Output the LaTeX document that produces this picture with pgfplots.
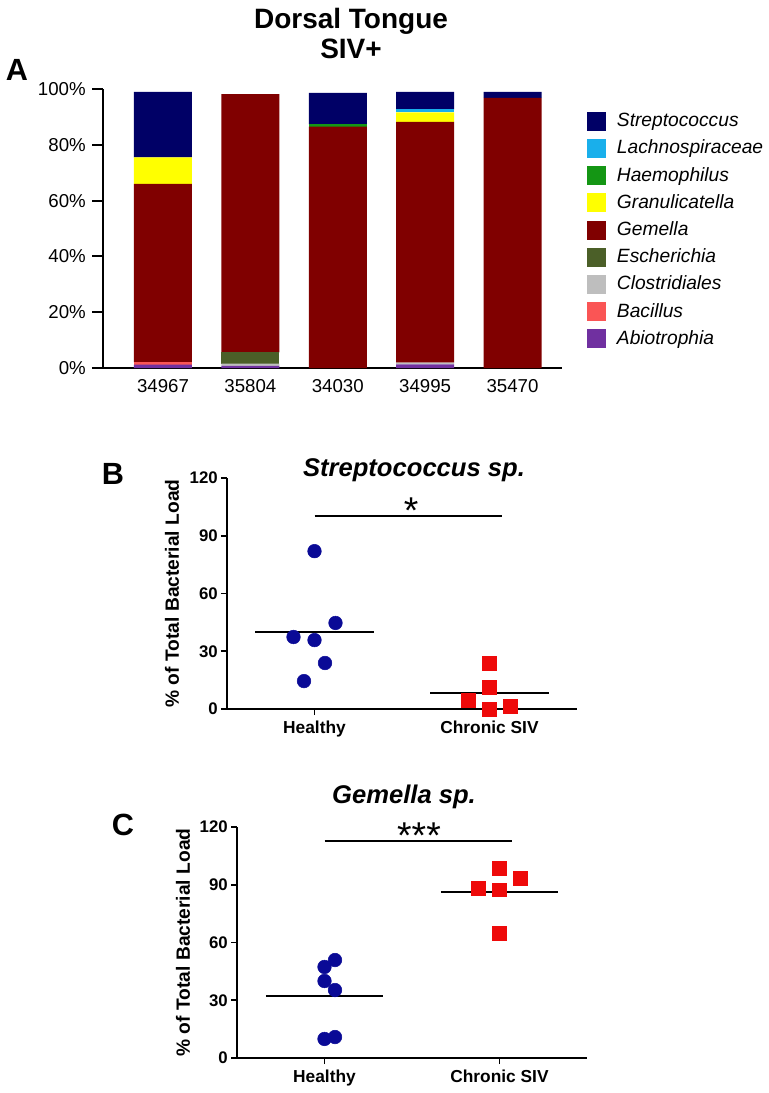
\documentclass[border=0pt]{standalone}
\usepackage{fontspec}
\setmainfont{Liberation Sans}
\usepackage{pgfplots}
\pgfplotsset{compat=1.18}
\definecolor{cStrep}{RGB}{0,0,102}
\definecolor{cLach}{RGB}{25,175,235}
\definecolor{cHaem}{RGB}{20,150,20}
\definecolor{cGran}{RGB}{255,255,0}
\definecolor{cGem}{RGB}{128,0,0}
\definecolor{cEsch}{RGB}{75,95,40}
\definecolor{cClos}{RGB}{190,190,190}
\definecolor{cBac}{RGB}{250,85,85}
\definecolor{cAbio}{RGB}{112,48,160}
\definecolor{cBlue}{RGB}{10,10,150}
\definecolor{cRed}{RGB}{238,10,10}
\begin{document}
\begin{tikzpicture}
\useasboundingbox (0,0) rectangle (576pt,-819.75pt);
% headings
\node[anchor=base, font=\bfseries\fontsize{21}{25}\selectfont] at (263.25pt,-21pt) {Dorsal Tongue};
\node[anchor=base, font=\bfseries\fontsize{21}{25}\selectfont] at (263.25pt,-43.5pt) {SIV+};
\node[anchor=base, font=\bfseries\fontsize{23}{27}\selectfont] at (12.75pt,-60pt) {A};
\node[anchor=base, font=\bfseries\fontsize{23}{27}\selectfont] at (84.75pt,-363pt) {B};
\node[anchor=base, font=\bfseries\fontsize{23}{27}\selectfont] at (92.25pt,-626.25pt) {C};
\node[anchor=base, font=\bfseries\itshape\fontsize{19.2}{22}\selectfont] at (310.5pt,-357pt) {Streptococcus sp.};
\node[anchor=base, font=\bfseries\itshape\fontsize{19.2}{22}\selectfont] at (303pt,-602.25pt) {Gemella sp.};

% ---------------- Panel A ----------------
\begin{axis}[
  at={(77.25pt,-276pt)}, anchor=south west, scale only axis,
  width=344.25pt, height=209.25pt,
  xmin=-0.6865, xmax=4.566, ymin=0, ymax=100,
  axis lines=left, axis line style={-, line width=1.5pt},
  ybar stacked, bar width=43.5pt,
  xtick={0,1,2,3,4}, xticklabels={34967,35804,34030,34995,35470},
  x tick style={draw=none},
  ytick={0,20,40,60,80,100},
  yticklabel={\pgfmathprintnumber{\tick}\%},
  tick align=outside, major tick length=8.25pt,
  y tick style={line width=1.5pt, black},
  tick label style={font=\fontsize{14}{16}\selectfont, inner sep=0pt},
  yticklabel style={xshift=-4.5pt},
  /pgf/number format/assume math mode=true,
  clip=false,
  reverse legend,
  legend cell align=left,
  legend image code/.code={\draw[#1,draw=none] (0pt,-7.1pt) rectangle (14.25pt,7.1pt);},
  legend style={draw=none, fill=none, at={(1.0545,0.919)}, anchor=north west,
    font=\itshape\fontsize{14.4}{17}\selectfont, inner sep=0pt, row sep=6.2pt, column sep=8pt,
    nodes={inner sep=0pt, text height=11pt, text depth=3pt, anchor=west}},
]
\addplot[fill=cAbio, draw=none] coordinates {(0,1.2) (1,0.8) (2,0) (3,1.3) (4,0)};
\addlegendentry{Abiotrophia}
\addplot[fill=cBac, draw=none] coordinates {(0,0.8) (1,0) (2,0) (3,0) (4,0)};
\addlegendentry{Bacillus}
\addplot[fill=cClos, draw=none] coordinates {(0,0) (1,0.8) (2,0) (3,0.6) (4,0)};
\addlegendentry{Clostridiales}
\addplot[fill=cEsch, draw=none] coordinates {(0,0) (1,4.0) (2,0) (3,0) (4,0)};
\addlegendentry{Escherichia}
\addplot[fill=cGem, draw=none] coordinates {(0,64.0) (1,92.6) (2,86.5) (3,86.3) (4,96.8)};
\addlegendentry{Gemella}
\addplot[fill=cGran, draw=none] coordinates {(0,9.5) (1,0) (2,0) (3,3.4) (4,0)};
\addlegendentry{Granulicatella}
\addplot[fill=cHaem, draw=none] coordinates {(0,0) (1,0) (2,0.8) (3,0) (4,0)};
\addlegendentry{Haemophilus}
\addplot[fill=cLach, draw=none] coordinates {(0,0) (1,0) (2,0) (3,1.1) (4,0)};
\addlegendentry{Lachnospiraceae}
\addplot[fill=cStrep, draw=none] coordinates {(0,23.5) (1,0) (2,11.3) (3,6.3) (4,2.2)};
\addlegendentry{Streptococcus}
\draw[line width=1.5pt] (axis cs:-0.8124,0) -- (axis cs:-0.6865,0);
\end{axis}

% ---------------- Panel B ----------------
\begin{axis}[
  at={(170.25pt,-531.75pt)}, anchor=south west, scale only axis,
  width=262.5pt, height=173.25pt,
  xmin=0.5, xmax=2.5, ymin=0, ymax=120,
  axis lines=left, axis line style={-, line width=1.4pt},
  tick style={line width=1.4pt, black},
  tick align=outside, major tick length=4.5pt,
  xtick={1,2}, xticklabels={Healthy,Chronic SIV},
  ytick={0,30,60,90,120},
  /pgf/number format/assume math mode=true,
  xticklabel style={font=\bfseries\fontsize{13}{15}\selectfont, inner sep=0pt, yshift=-4.5pt},
  yticklabel style={font=\bfseries\fontsize{12.6}{14}\selectfont, inner sep=0pt, xshift=-2.25pt},
  ylabel={\% of Total Bacterial Load},
  ylabel style={at={(axis description cs:-0.157,0.5)}, anchor=center, font=\bfseries\fontsize{14.4}{16}\selectfont},
  clip=false,
]
\addplot[only marks, mark=*, mark size=5.1pt, color=cBlue] coordinates {(1,82) (0.88,37.4) (1,35.8) (1.12,44.7) (1.06,23.9) (0.94,14.5)};
\addplot[only marks, mark=square*, mark size=5.3pt, color=cRed] coordinates {(2,23.9) (2,11.4) (1.88,4.7) (2,0) (2.12,1.6)};
\addplot[black, line width=1.7pt] coordinates {(0.66,40) (1.34,40)};
\addplot[black, line width=1.7pt] coordinates {(1.66,8.3) (2.34,8.3)};
\addplot[black, line width=1pt] coordinates {(1,100.3) (2.07,100.3)};
\node[anchor=base, font=\fontsize{28}{30}\selectfont, yshift=-5.5pt] at (axis cs:1.552,100.3) {*};
\end{axis}

% ---------------- Panel C ----------------
\begin{axis}[
  at={(177.75pt,-793.5pt)}, anchor=south west, scale only axis,
  width=262.5pt, height=173.25pt,
  xmin=0.5, xmax=2.5, ymin=0, ymax=120,
  axis lines=left, axis line style={-, line width=1.4pt},
  tick style={line width=1.4pt, black},
  tick align=outside, major tick length=4.5pt,
  xtick={1,2}, xticklabels={Healthy,Chronic SIV},
  ytick={0,30,60,90,120},
  /pgf/number format/assume math mode=true,
  xticklabel style={font=\bfseries\fontsize{13}{15}\selectfont, inner sep=0pt, yshift=-4.5pt},
  yticklabel style={font=\bfseries\fontsize{12.6}{14}\selectfont, inner sep=0pt, xshift=-2.25pt},
  ylabel={\% of Total Bacterial Load},
  ylabel style={at={(axis description cs:-0.154,0.5)}, anchor=center, font=\bfseries\fontsize{14.4}{16}\selectfont},
  clip=false,
]
\addplot[only marks, mark=*, mark size=5.1pt, color=cBlue] coordinates {(1,47.3) (1,40) (1.06,50.9) (1.06,35.3) (1,9.9) (1.06,10.9)};
\addplot[only marks, mark=square*, mark size=5.1pt, color=cRed] coordinates {(1.88,88.3) (2,98.7) (2,87.3) (2.12,93.5) (2,64.9)};
\addplot[black, line width=1.7pt] coordinates {(0.665,32.3) (1.335,32.3)};
\addplot[black, line width=1.7pt] coordinates {(1.665,86.3) (2.335,86.3)};
\addplot[black, line width=1pt] coordinates {(1,112.7) (2.07,112.7)};
\node[anchor=base, font=\fontsize{28}{30}\selectfont, yshift=-5.5pt] at (axis cs:1.54,112.7) {***};
\end{axis}
\end{tikzpicture}
\end{document}
